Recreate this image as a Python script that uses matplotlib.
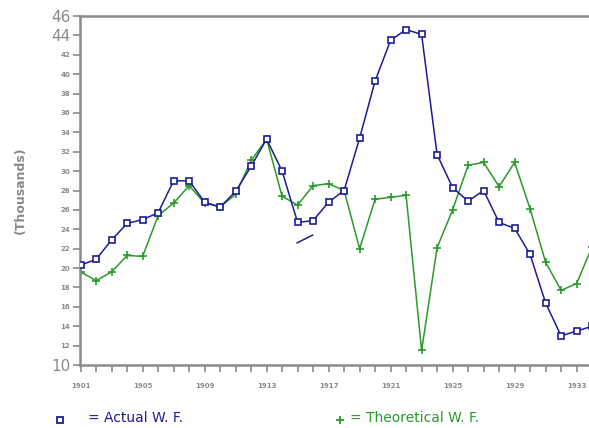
import matplotlib
matplotlib.use("Agg")
import matplotlib.pyplot as plt
from matplotlib.ticker import MultipleLocator
from matplotlib.lines import Line2D

years = list(range(1901, 1935))
actual_wf = [20.3, 20.9, 22.9, 24.6, 25.0, 25.7, 29.0, 29.0, 26.8, 26.3,
             27.9, 30.5, 33.3, 30.0, 24.7, 24.9, 26.8, 28.0, 33.4, 39.3,
             43.5, 44.6, 44.1, 31.7, 28.3, 26.9, 28.0, 24.7, 24.1, 21.4,
             16.4, 13.0, 13.5, 14.0]
theoretical_wf = [19.6, 18.7, 19.6, 21.3, 21.2, 25.4, 26.7, 28.5, 26.7, 26.3,
                  27.6, 31.1, 33.3, 27.4, 26.5, 28.5, 28.7, 28.0, 22.0, 27.1,
                  27.3, 27.5, 11.5, 22.1, 26.0, 30.6, 30.9, 28.4, 30.9, 26.1,
                  20.6, 17.7, 18.4, 22.2]
# stray pen mark in the original scan
stray_x = [1914.97, 1915.97]
stray_y = [22.6, 23.4]

y_ticks = list(range(10, 47, 2))
x_label_years = [1901, 1905, 1909, 1913, 1917, 1921, 1925, 1929, 1933]

blue = "#1c1c96"
green = "#2a9a2a"
gray = "#8a8a8a"

fig = plt.figure(figsize=(5.89, 4.28), dpi=100)
ax = fig.add_axes([80 / 589, 1 - 365 / 428, 1 - 80 / 589, (365 - 16) / 428])

ax.plot(years, actual_wf, color=blue, lw=1.1, marker="s", ms=5,
        mfc="white", mec=blue, mew=1.2, clip_on=True, zorder=3)
ax.plot(years, theoretical_wf, color=green, lw=1.1, marker="+", ms=6,
        mew=1.2, clip_on=True, zorder=2)
ax.plot(stray_x, stray_y, color=blue, lw=1.1)

ax.set_xlim(1900.96, 1933.8)
ax.set_ylim(10, 46)

ax.spines["right"].set_visible(False)
for s in ["left", "bottom", "top"]:
    ax.spines[s].set_color(gray)
    ax.spines[s].set_linewidth(1.8)

ax.set_yticks(y_ticks)
ax.set_yticklabels([str(v) for v in y_ticks])
for lab, v in zip(ax.get_yticklabels(), y_ticks):
    if v in (10, 44, 46):
        lab.set_fontsize(11)
    else:
        lab.set_fontsize(5)
        lab.set_fontweight("bold")
    lab.set_color(gray)
ax.tick_params(axis="y", direction="out", length=5, width=1.2, color=gray, pad=2)

ax.set_xticks(x_label_years)
ax.set_xticklabels([str(y) for y in x_label_years], fontsize=5, color=gray,
                   fontweight="bold")
ax.xaxis.set_minor_locator(MultipleLocator(1))
ax.tick_params(axis="x", which="both", direction="out", length=5, width=1.2,
               color=gray, pad=8)

ax.set_ylabel("(Thousands)", fontsize=9, fontweight="bold", color=gray,
              labelpad=17)

# legend
fig.add_artist(Line2D([60 / 589], [1 - 420 / 428], marker="s", ms=5,
                      mfc="white", mec=blue, mew=1.3, ls="none",
                      transform=fig.transFigure))
fig.text(88 / 589, 1 - 418 / 428, "= Actual W. F.", color=blue, fontsize=10,
         ha="left", va="center")
fig.add_artist(Line2D([340 / 589], [1 - 420 / 428], marker="+", ms=6,
                      mec=green, mew=1.3, ls="none",
                      transform=fig.transFigure))
fig.text(350 / 589, 1 - 418 / 428, "= Theoretical W. F.", color=green,
         fontsize=10, ha="left", va="center")

fig.savefig("out.png", dpi=100)
